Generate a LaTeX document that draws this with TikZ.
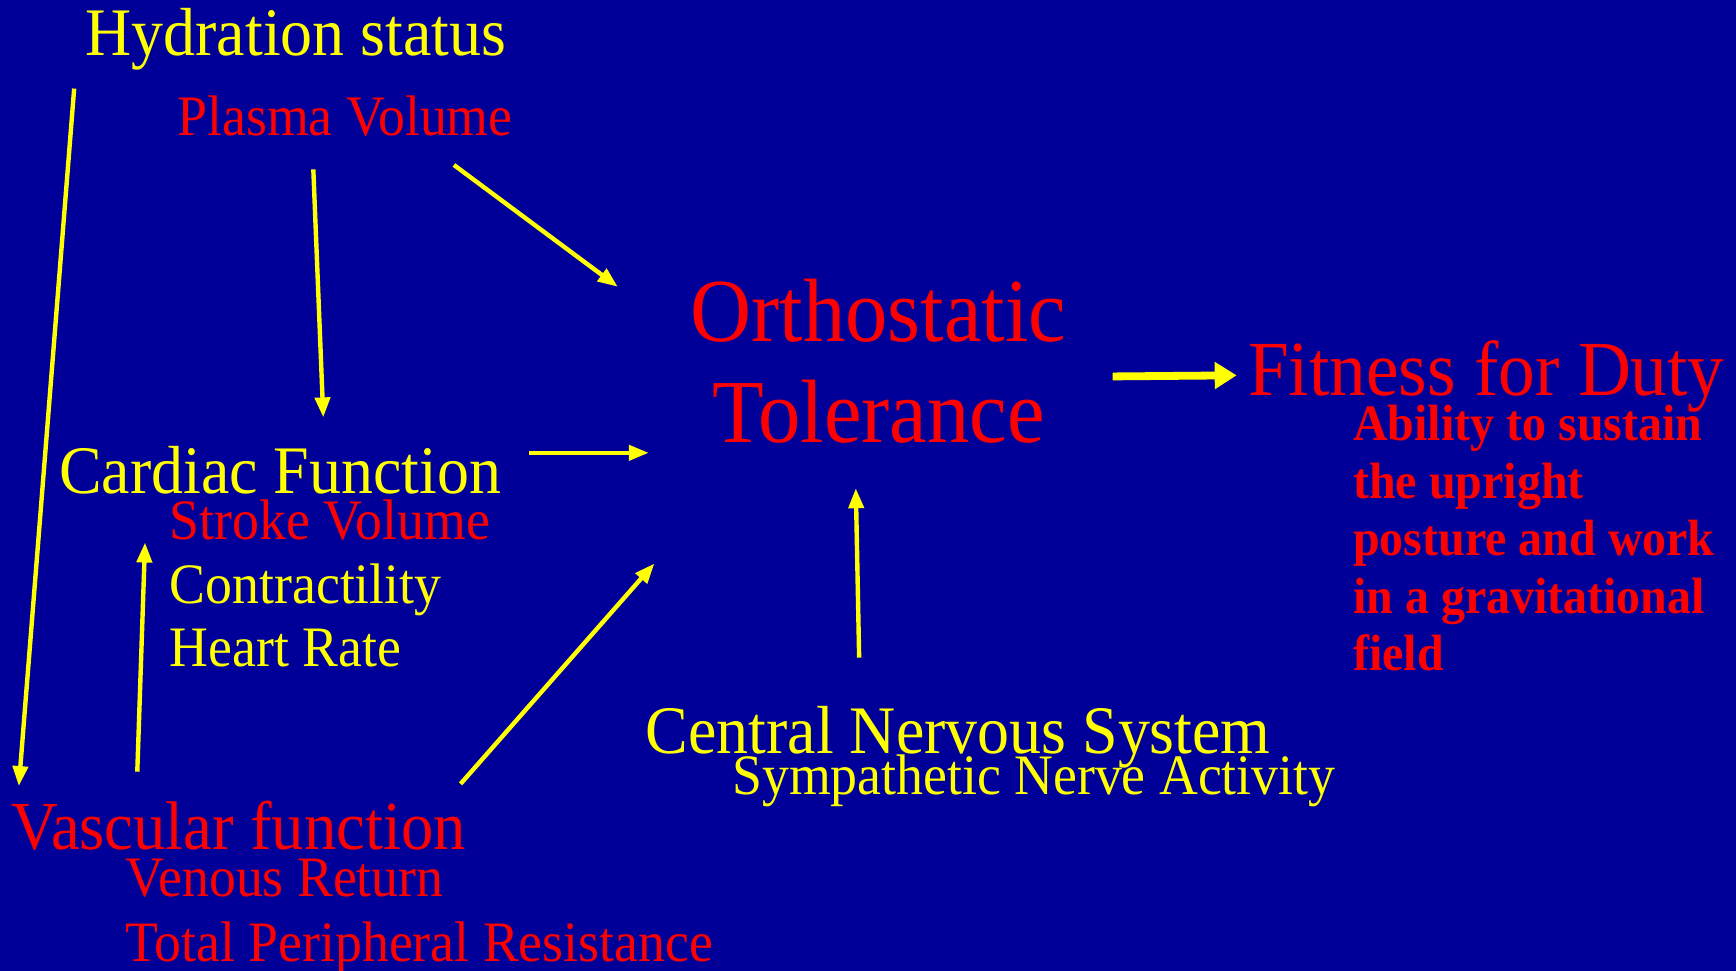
\documentclass[tikz,border=0pt]{standalone}
\usepackage{fontspec}
\setmainfont{Liberation Serif}[FakeStretch=0.94]
\usetikzlibrary{positioning,calc,arrows.meta}
\definecolor{slideblue}{RGB}{0,0,153}
\definecolor{slideyellow}{RGB}{255,255,0}
\definecolor{slidered}{RGB}{255,0,0}
\tikzset{
  label base/.style={inner sep=0pt, anchor=base west},
  main label/.style={label base, font=\fontsize{34}{40}\selectfont},
  sub label/.style={label base, font=\fontsize{28.6}{34}\selectfont},
  yellow label/.style={text=slideyellow},
  red label/.style={text=slidered},
  flow arrow/.style={draw=slideyellow, line width=2.2pt, -{Triangle[length=10pt,width=7.5pt]}},
  big arrow/.style={draw=slideyellow, line width=3.9pt, -{Triangle[length=11pt,width=13pt]}},
}

\begin{document}
\begin{tikzpicture}[x=0.5536pt,y=-0.5536pt]
% background
\useasboundingbox (0,0) rectangle (1568,877);
\fill[slideblue] (0,0) rectangle (1568,877);
% the nodes
\node [main label,yellow label] (hyd) at (77,50) {Hydration status};
\node [sub label,red label] (plasma) at (160,122) {Plasma Volume};
\node [red label,inner sep=0pt,anchor=base,align=center,font=\fontsize{45}{50.9}\selectfont] (ortho) at (793.5,400) {Orthostatic\\Tolerance};
\node [label base,red label,font=\fontsize{39}{45}\selectfont] (fit) at (1127,357) {Fitness for Duty};
\node [label base,red label,align=left,font=\bfseries\fontsize{25.5}{28.8}\selectfont] (ability) at (1222,606) {Ability to sustain\\the upright\\posture and work\\in a gravitational\\field};
\node [main label,yellow label] (cardiac) at (53,446) {Cardiac Function};
\node [sub label,red label] (stroke) at (153,487) {Stroke Volume};
\node [sub label,yellow label] (contr) at (153,545) {Contractility};
\node [sub label,yellow label] (heart) at (153,602) {Heart Rate};
\node [main label,yellow label] (cns) at (583,681) {Central Nervous System};
\node [sub label,yellow label] (symp) at (661,718) {Sympathetic Nerve Activity};
\node [main label,red label,font=\fontsize{34.4}{40}\selectfont] (vasc) at (10,767) {Vascular function};
\node [sub label,red label] (venous) at (113,810) {Venous Return};
\node [sub label,red label] (tpr) at (113,868) {Total Peripheral Resistance};
%drawings of vectors
\draw[flow arrow] ($(hyd.base west)+(-10,30)$) -- ($(vasc.base west)+(7,-57)$);
\draw[flow arrow] ($(plasma.base west)+(123,31)$) -- ($(cardiac.base west)+(239,-69)$);
\draw[flow arrow] ($(plasma.base west)+(250,27)$) -- ($(ortho.base)+(-235.5,-141)$);
\draw[flow arrow] ($(cardiac.base west)+(425,-37)$) -- ($(ortho.base)+(-207.5,9)$);
\draw[flow arrow] ($(vasc.base west)+(114,-70)$) -- ($(cardiac.base west)+(78,44)$);
\draw[flow arrow] ($(vasc.base west)+(406,-59)$) -- ($(ortho.base)+(-202.5,109)$);
\draw[flow arrow] ($(cns.base west)+(193,-87)$) -- ($(ortho.base)+(-20.5,41)$);

\draw[big arrow] ($(ortho.base)+(211.5,-60)$) -- ($(fit.base west)+(-10,-18)$);
\end{tikzpicture}
\end{document}
